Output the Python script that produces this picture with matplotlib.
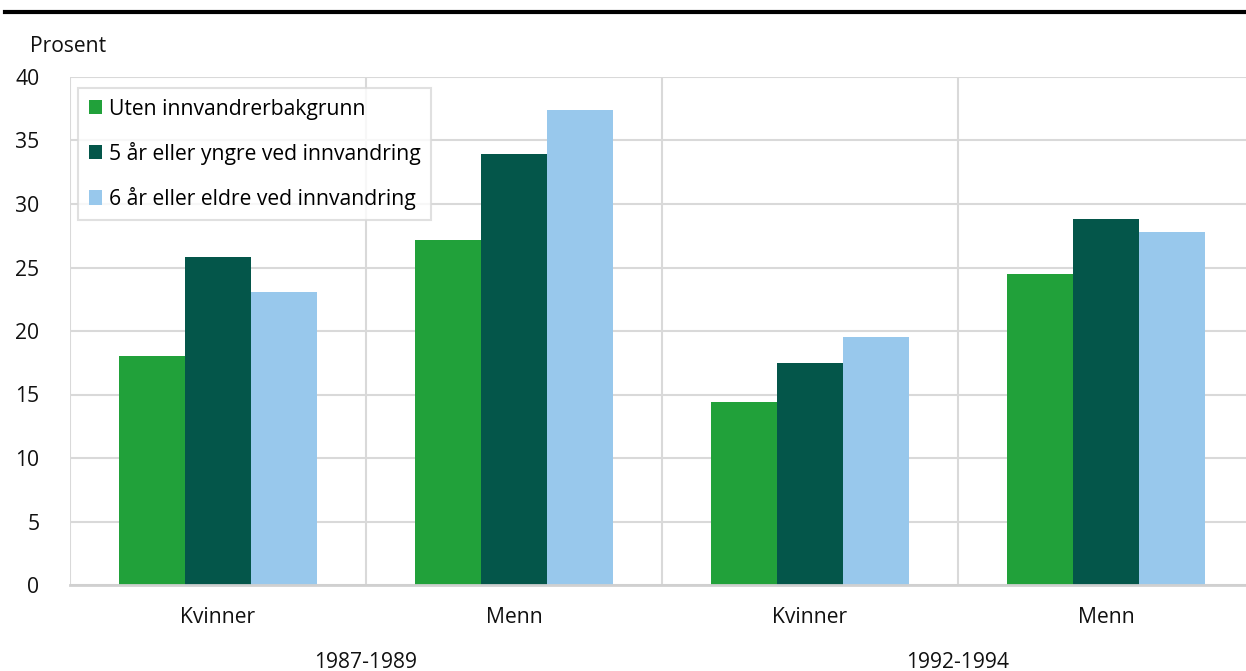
import numpy as np
import matplotlib
matplotlib.use("Agg")
import matplotlib.pyplot as plt
import matplotlib.transforms as mtransforms
from matplotlib.patches import Patch
from matplotlib.lines import Line2D

plt.rcParams["font.family"] = ["Open Sans", "DejaVu Sans"]

# data
categories = ["Kvinner", "Menn", "Kvinner", "Menn"]
periods = ["1987-1989", "1992-1994"]
series_names = [
    "Uten innvandrerbakgrunn",
    "5 år eller yngre ved innvandring",
    "6 år eller eldre ved innvandring",
]
uten = [18.0, 27.2, 14.4, 24.5]
yngre = [25.8, 33.9, 17.5, 28.8]
eldre = [23.1, 37.4, 19.5, 27.8]
colors = ["#21A13A", "#04564A", "#98C8EC"]

FS = 15.2

fig = plt.figure(figsize=(12.46, 6.71), dpi=100)
ax = fig.add_axes([70 / 1246, 1 - 585 / 671, 1184 / 1246, 508 / 671])

x = np.arange(len(categories))
width = 0.222
for i, (vals, col) in enumerate(zip([uten, yngre, eldre], colors)):
    ax.bar(x + (i - 1) * width, vals, width, color=col, zorder=3, linewidth=0)

ax.set_xlim(-0.5, len(categories) - 0.5)
ax.set_ylim(0, 40)
ax.set_yticks(range(0, 41, 5))
ax.yaxis.grid(True, color="#D9D9D9", linewidth=1.5, zorder=0)
for b in [0.5, 1.5, 2.5]:
    ax.axvline(b, color="#D9D9D9", linewidth=1.5, zorder=0)
ax.axvline(-0.5, color="#D9D9D9", linewidth=1.5, zorder=0)

for s in ["top", "right", "left"]:
    ax.spines[s].set_visible(False)
ax.spines["bottom"].set_color("#D0D0D0")
ax.spines["bottom"].set_linewidth(2)
ax.spines["bottom"].set_zorder(4)

ax.tick_params(axis="both", length=0, labelsize=FS, colors="#111111")
ax.tick_params(axis="y", pad=22)
ax.set_xticks(x)
ax.set_xticklabels(categories)
ax.tick_params(axis="x", pad=16)

# period labels under each pair of categories
trans = mtransforms.blended_transform_factory(ax.transData, fig.transFigure)
for j, p in enumerate(periods):
    ax.text(2 * j + 0.5, 1 - 662 / 671, p, transform=trans,
            ha="center", va="center", fontsize=FS, color="#111111")

fig.text(30 / 1246, 1 - 46 / 671, "Prosent", ha="left", va="center",
         fontsize=FS, color="#111111")

# thick rule at the top (title above is cut off)
fig.add_artist(Line2D([5 / 1246, 1.0], [1 - 12 / 671, 1 - 12 / 671],
                      color="black", linewidth=3))

handles = [Patch(facecolor=c, edgecolor="none") for c in colors]
leg = ax.legend(handles, series_names, loc="upper left",
                bbox_to_anchor=(8 / 1184, 1 - 11 / 508), fontsize=FS,
                frameon=True, fancybox=False, handlelength=0.66,
                handleheight=0.66, handletextpad=0.3, labelspacing=1.05,
                borderpad=0.5, borderaxespad=0)
leg.get_frame().set_edgecolor("#D9D9D9")
leg.get_frame().set_linewidth(1.5)
leg.set_zorder(5)

fig.savefig("out.png", dpi=100)
